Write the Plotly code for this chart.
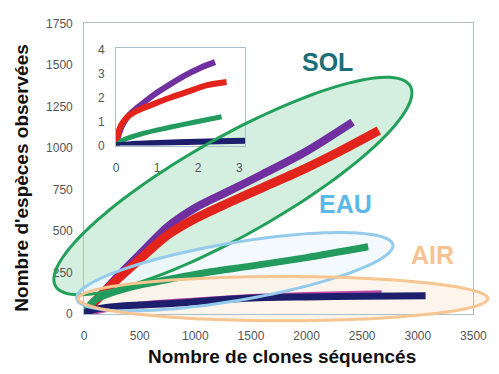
import math
import plotly.graph_objects as go

# ---------------- data ----------------
# main chart: number of clones sequenced vs observed species
purple_x = [0, 60, 150, 300, 500, 750, 1000, 1300, 1600, 2000, 2414]
purple_y = [0, 50, 115, 225, 360, 525, 640, 740, 840, 980, 1155]
red_x = [0, 60, 150, 300, 500, 750, 1000, 1300, 1600, 2000, 2300, 2650]
red_y = [0, 50, 110, 210, 330, 475, 575, 670, 760, 880, 980, 1105]
green_x = [0, 60, 122, 300, 500, 816, 1100, 1511, 2000, 2554]
green_y = [0, 60, 95, 140, 175, 216, 250, 290, 340, 405]
magenta_x = [0, 500, 1000, 1500, 2000, 2675]
magenta_y = [0, 60, 85, 105, 118, 128]
navy_x = [0, 35, 200, 500, 816, 1200, 1511, 2000, 2500, 3070]
navy_y = [0, 15, 40, 55, 65, 85, 97, 103, 107, 110]

# inset chart
purple_in_x = [0, 0.03, 0.15, 0.34, 0.66, 0.97, 1.28, 1.67, 2.06, 2.41]
purple_in_y = [0, 0.24, 0.84, 1.31, 1.77, 2.17, 2.51, 2.91, 3.24, 3.47]
red_in_x = [0, 0.02, 0.07, 0.23, 0.50, 0.89, 1.28, 1.75, 2.22, 2.69]
red_in_y = [0, 0.11, 0.64, 1.11, 1.44, 1.71, 1.97, 2.24, 2.51, 2.64]
green_in_x = [0, 0.19, 0.66, 1.28, 1.90, 2.57]
green_in_y = [0, 0.24, 0.51, 0.75, 0.97, 1.20]
navy_in_x = [0, 0.5, 1.5, 2.5, 3.15]
navy_in_y = [0, 0.08, 0.14, 0.18, 0.20]

main_xticks = [0, 500, 1000, 1500, 2000, 2500, 3000, 3500]
main_yticks = [0, 250, 500, 750, 1000, 1250, 1500, 1750]
inset_xticks = [0, 1, 2, 3]
inset_yticks = [0, 1, 2, 3, 4]

x_title = "Nombre de clones séquencés"
y_title = "Nombre d'espèces observées"
group_labels = ["SOL", "EAU", "AIR"]

# ---------------- layout helpers (reference is 499 x 374 px) ----------------
W, H = 499, 374


def px(x):
    return x / W


def py(y):
    return 1 - y / H


def ellipse_path(cx, cy, a, b, ang, n=120):
    t = math.radians(ang)
    ux, uy = math.cos(t), -math.sin(t)
    vx, vy = math.sin(t), math.cos(t)
    pts = []
    for i in range(n):
        s = 2 * math.pi * i / n
        X = cx + a * math.cos(s) * ux + b * math.sin(s) * vx
        Y = cy + a * math.cos(s) * uy + b * math.sin(s) * vy
        pts.append(f"{px(X):.5f},{py(Y):.5f}")
    return "M " + " L ".join(pts) + " Z"


fig = go.Figure()

main_series = [
    (purple_x, purple_y, "#7030a0", 8),
    (red_x, red_y, "#e3241c", 9),
    (green_x, green_y, "#239a5e", 7),
    (magenta_x, magenta_y, "#c24aa8", 5),
    (navy_x, navy_y, "#1d1f6c", 7),
]
for xs, ys, c, w in main_series:
    fig.add_trace(go.Scatter(x=xs, y=ys, mode="lines",
                             line=dict(color=c, width=w, shape="spline", smoothing=0.8),
                             showlegend=False, hoverinfo="skip"))

inset_series = [
    (purple_in_x, purple_in_y, "#7030a0", 6),
    (red_in_x, red_in_y, "#e3241c", 6),
    (green_in_x, green_in_y, "#239a5e", 5),
    (navy_in_x, navy_in_y, "#1d1f6c", 6),
]
for xs, ys, c, w in inset_series:
    fig.add_trace(go.Scatter(x=xs, y=ys, mode="lines", xaxis="x2", yaxis="y2",
                             line=dict(color=c, width=w, shape="spline", smoothing=0.8),
                             showlegend=False, hoverinfo="skip"))

tickfont = dict(family="Arial, Liberation Sans, sans-serif", size=12, color="#555555")
frame = "#a9c0cc"

ellipses = {
    "SOL": dict(c=(238, 186, 211, 51, 29.5), line="#22a05a",
                fill="rgba(120,205,160,0.32)"),
    "EAU": dict(c=(240, 275, 166, 30, 9.7), line="#94cbec",
                fill="rgba(240,248,252,0.80)"),
    "AIR": dict(c=(290, 303, 212, 23, 0.0), line="#f7c592",
                fill="rgba(253,242,230,0.80)"),
}
shapes = []
for k in ["SOL", "EAU", "AIR"]:
    e = ellipses[k]
    shapes.append(dict(type="path", xref="paper", yref="paper", layer="below",
                       path=ellipse_path(*e["c"]), fillcolor=e["fill"],
                       line=dict(width=0)))
for k in ["SOL", "EAU", "AIR"]:
    e = ellipses[k]
    shapes.append(dict(type="path", xref="paper", yref="paper", layer="above",
                       path=ellipse_path(*e["c"]), fillcolor="rgba(0,0,0,0)",
                       line=dict(color=e["line"], width=3)))

label_pos = {"SOL": (336, 57, "#1b6e78"), "EAU": (355, 205, "#5cb8e6"),
             "AIR": (445, 258, "#f6c390")}
annotations = []
for lab in group_labels:
    x, y, c = label_pos[lab]
    annotations.append(dict(text=lab, x=px(x), y=py(y), xref="paper", yref="paper",
                            showarrow=False, xanchor="center", yanchor="middle",
                            font=dict(family="Arial, Liberation Sans, sans-serif",
                                      size=25, color=c, weight="bold")))
annotations.append(dict(text=x_title, x=px(289), y=py(363), xref="paper", yref="paper",
                        showarrow=False, xanchor="center", yanchor="middle",
                        font=dict(family="Arial, Liberation Sans, sans-serif",
                                  size=19, color="#111111", weight="bold")))
annotations.append(dict(text=y_title, x=px(19), y=py(178), xref="paper", yref="paper",
                        showarrow=False, xanchor="center", yanchor="middle", textangle=-90,
                        font=dict(family="Arial, Liberation Sans, sans-serif",
                                  size=19, color="#111111", weight="bold")))

fig.update_layout(
    width=W, height=H,
    margin=dict(l=0, r=0, t=0, b=0),
    paper_bgcolor="white",
    plot_bgcolor="rgba(0,0,0,0)",
    showlegend=False,
    xaxis=dict(domain=[px(84), px(487)], range=[0, 3500], tickvals=main_xticks,
               showgrid=False, zeroline=False, showline=True, mirror=True,
               linecolor=frame, linewidth=1, tickfont=tickfont, ticks="",
               ticklabelstandoff=11, ticklabeloverflow="allow"),
    yaxis=dict(domain=[py(319), py(17)], range=[0, 1750], tickvals=main_yticks,
               showgrid=False, zeroline=False, showline=True, mirror=True,
               linecolor=frame, linewidth=1, tickfont=tickfont, ticks="",
               ticklabelstandoff=8),
    xaxis2=dict(domain=[px(117), px(251)], range=[0, 3.15], tickvals=inset_xticks,
                anchor="y2", showgrid=False, zeroline=False, showline=True, mirror=True,
                linecolor=frame, linewidth=1, tickfont=tickfont, ticks="",
                ticklabelstandoff=11),
    yaxis2=dict(domain=[py(144), py(43)], range=[0, 4.04], tickvals=inset_yticks,
                anchor="x2", showgrid=False, zeroline=False, showline=True, mirror=True,
                linecolor=frame, linewidth=1, tickfont=tickfont, ticks="",
                ticklabelstandoff=8),
    shapes=shapes,
    annotations=annotations,
)

fig.write_html(
    "out.html",
    config={"displayModeBar": False},
    post_script=(
        "document.body.style.margin='0';"
        "document.body.style.overflow='hidden';"
    ),
)
